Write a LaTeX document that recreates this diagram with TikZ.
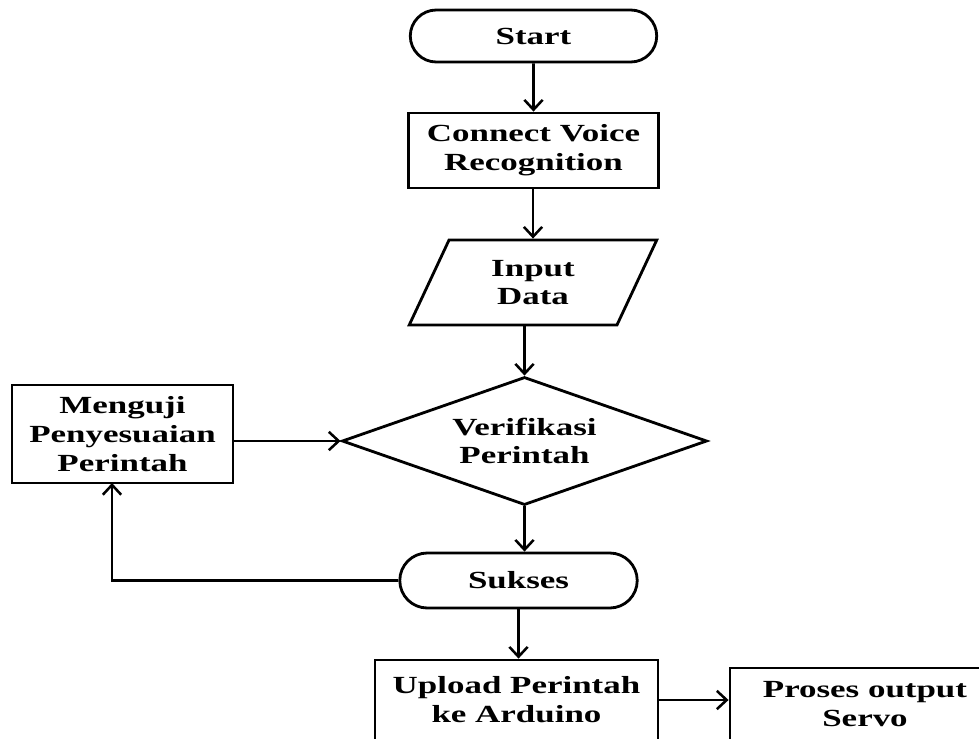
\documentclass[tikz,border=0pt]{standalone}
\usepackage{fontspec}
\setmainfont[FakeStretch=1.42]{Liberation Serif}
\usepackage{tikz}
\usetikzlibrary{arrows.meta}
\usetikzlibrary{shapes.geometric,shapes.misc}
\begin{document}
\begin{tikzpicture}[x=0.025cm,y=-0.025cm]
\tikzset{myedgestyle/.style={line width=2pt, -{Straight Barb[length=7pt,width=13pt,line width=1.8pt]}}}
\tikzset{blok/.style={draw, line width=2pt, align=center, inner sep=2pt,
  font=\fontsize{17.5}{20.5}\selectfont\bfseries}}
\tikzset{terminal/.style={blok, rounded rectangle}}

\clip (0,0) rectangle (979,738);
\fill[white] (0,0) rectangle (979,738);

\node[terminal, minimum width=6.3cm, minimum height=1.3cm] (start) at (533.5,36) {Start};
\node[blok, minimum width=6.25cm, minimum height=1.875cm] (connect) at (533.5,150.5) {Connect Voice\\Recognition};
\node[blok, trapezium, trapezium left angle=67.4, trapezium right angle=112.6,
  trapezium stretches=true, minimum width=6.25cm, minimum height=2.125cm] (input) at (533,282.5) {Input\\Data};
\node[blok, diamond, aspect=2.85, inner sep=0pt, minimum width=9.125cm, minimum height=3.2cm] (verif) at (524.5,441) {Verifikasi\\Perintah};
\node[blok, minimum width=5.525cm, minimum height=2.45cm] (menguji) at (122.5,434) {Menguji\\Penyesuaian\\Perintah};
\node[terminal, minimum width=6.075cm, minimum height=1.375cm] (sukses) at (518.5,580.5) {Sukses};
\node[blok, minimum width=7.075cm, minimum height=2cm] (upload) at (516.5,700) {Upload Perintah\\ke Arduino};
\node[blok, minimum width=6.75cm, minimum height=1.8cm] (servo) at (865,704) {Proses output\\Servo};
\coordinate (balik) at (112,483);

\draw [myedgestyle] (start) -- (connect);
\draw [myedgestyle] (connect.south -| input.north) -- (input.north);
\draw [myedgestyle] (input.south -| verif.north) -- (verif.north);
\draw [myedgestyle] (verif.south) -- (verif.south |- sukses.north);
\draw [myedgestyle] (menguji.east |- verif.west) -- (verif.west);
\draw [myedgestyle] (sukses.west) -| (balik);
\draw [myedgestyle] (sukses.south) -- (sukses.south |- upload.north);
\draw [myedgestyle] (upload.east) -- (upload.east -| servo.west);
\end{tikzpicture}
\end{document}
